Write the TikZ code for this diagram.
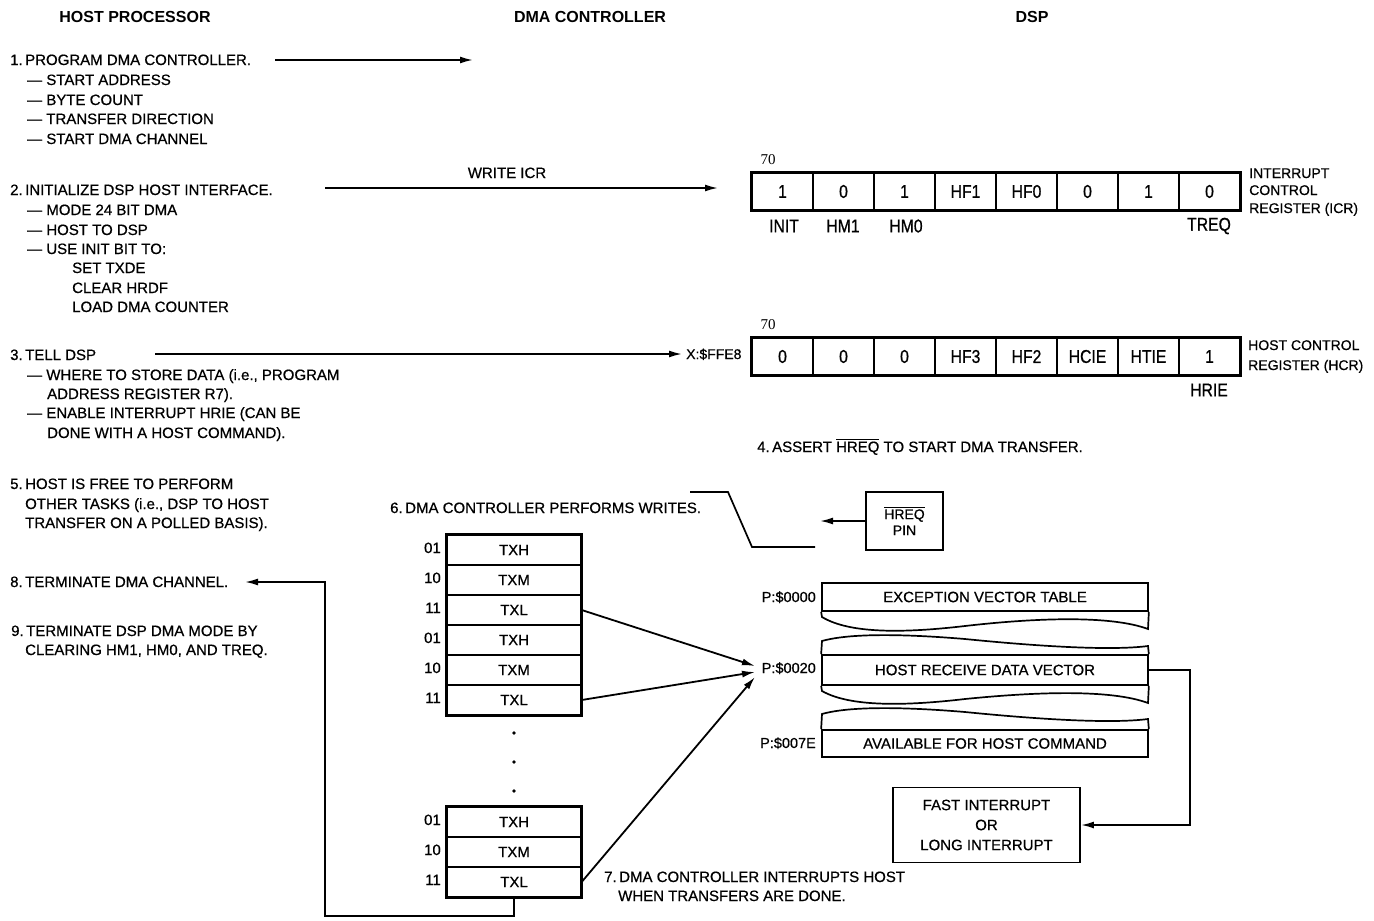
\documentclass[tikz,border=0pt]{standalone}
\usepackage{fontspec}
\setmainfont{Liberation Sans}[UprightFeatures={FakeBold=0.6}]
\newfontfamily\condf{Liberation Sans}[FakeStretch=0.85,FakeBold=0.8]
\newfontfamily\serf{Liberation Serif}
\usetikzlibrary{arrows.meta}
\newsavebox\ovlbox
\newcommand{\ovl}[1]{\sbox\ovlbox{#1}\rlap{\rule[\dimexpr\ht\ovlbox+1.6pt\relax]{\wd\ovlbox}{0.9pt}}\usebox\ovlbox}
\newcommand{\nsp}{\hspace{2.5pt}}
\begin{document}
\begin{tikzpicture}[x=1pt,y=-1pt,
  txt/.style={inner sep=0pt, anchor=base west, font=\fontsize{15}{18}\selectfont},
  ctxt/.style={inner sep=0pt, anchor=base, font=\fontsize{15}{18}\selectfont},
  hdr/.style={inner sep=0pt, anchor=base, font=\fontsize{16}{19}\selectfont\bfseries},
  reg/.style={draw, line width=1.3pt, minimum width=61pt, minimum height=37pt, inner sep=0pt, font=\condf\fontsize{18.5}{20}\selectfont},
  reglab/.style={inner sep=0pt, anchor=center, font=\condf\fontsize{18.5}{20}\selectfont},
  side/.style={inner sep=0pt, anchor=base west, font=\fontsize{14}{17}\selectfont},
  addr/.style={inner sep=0pt, anchor=base east, font=\fontsize{14.5}{17}\selectfont},
  num/.style={inner sep=0pt, anchor=base east, font=\fontsize{15}{18}\selectfont},
  seventy/.style={inner sep=0pt, font=\serf\fontsize{15}{18}\selectfont},
  cell/.style={draw, line width=1.3pt, minimum width=134pt, minimum height=30pt, inner sep=0pt, font=\fontsize{15}{18}\selectfont},
  mem/.style={draw, line width=1.7pt, minimum width=326pt, inner sep=0pt, font=\fontsize{15}{18}\selectfont},
  arr/.style={line width=1.8pt, -{Latex[length=13pt,width=7pt]}},
  ln/.style={line width=1.7pt},
]
\useasboundingbox (0,0) rectangle (1374,921);
\fill[white] (0,0) rectangle (1374,921);

% headers
\node[hdr] (h1) at (135,22.5) {HOST PROCESSOR};
\node[hdr] (h2) at (590,22.5) {DMA CONTROLLER};
\node[hdr] (h3) at (1032,22.5) {DSP};

% step 1
\node[txt] (s1) at (10,65) {1.\nsp PROGRAM DMA CONTROLLER.};
\node[txt] (s1a) at (27,85) {— START ADDRESS};
\node[txt] (s1b) at (27,105) {— BYTE COUNT};
\node[txt] (s1c) at (27,124) {— TRANSFER DIRECTION};
\node[txt] (s1d) at (27,144) {— START DMA CHANNEL};
\coordinate (a1s) at (275,60);
\coordinate (a1e) at (473,60);
\draw[arr] (a1s) -- (a1e);

% step 2
\node[txt] (s2) at (10,195) {2.\nsp INITIALIZE DSP HOST INTERFACE.};
\node[txt] (s2a) at (27,215) {— MODE 24 BIT DMA};
\node[txt] (s2b) at (27,235) {— HOST TO DSP};
\node[txt] (s2c) at (27,254) {— USE INIT BIT TO:};
\node[txt] (s2d) at (72,273) {SET TXDE};
\node[txt] (s2e) at (72,293) {CLEAR HRDF};
\node[txt] (s2f) at (72,312) {LOAD DMA COUNTER};
\node[ctxt] (wicr) at (507,178) {WRITE ICR};
\coordinate (a2s) at (325,188);
\coordinate (a2e) at (718,188);
\draw[arr] (a2s) -- (a2e);

% ICR
\node[seventy] (z1) at (768,160) {70};
\node[reg] (i1) at (782.5,191.5) {1};
\node[reg] (i2) at (843.5,191.5) {0};
\node[reg] (i3) at (904.5,191.5) {1};
\node[reg] (i4) at (965.5,191.5) {HF1};
\node[reg] (i5) at (1026.5,191.5) {HF0};
\node[reg] (i6) at (1087.5,191.5) {0};
\node[reg] (i7) at (1148.5,191.5) {1};
\node[reg] (i8) at (1209.5,191.5) {0};
\draw[line width=2.6pt] (i1.north west) rectangle (i8.south east);
\node[reglab] (l1) at (784,226) {INIT};
\node[reglab] (l2) at (843,226) {HM1};
\node[reglab] (l3) at (906,226) {HM0};
\node[reglab] (l4) at (1209,226) {TREQ};
\node[side] (icrt1) at (1249,178) {INTERRUPT};
\node[side] (icrt2) at (1249,195) {CONTROL};
\node[side] (icrt3) at (1249,213) {REGISTER (ICR)};

% step 3
\node[txt] (s3) at (10,360) {3.\nsp TELL DSP};
\node[txt] (s3a) at (27,380) {— WHERE TO STORE DATA (i.e., PROGRAM};
\node[txt] (s3b) at (47,399) {ADDRESS REGISTER R7).};
\node[txt] (s3c) at (27,418) {— ENABLE INTERRUPT HRIE (CAN BE};
\node[txt] (s3d) at (47,438) {DONE WITH A HOST COMMAND).};
\coordinate (a3s) at (155,354);
\node[side] (xffe8) at (686,359) {X:\$FFE8};
\draw[arr] (a3s) -- ([xshift=-4pt]xffe8.west |- a3s);

% HCR
\node[seventy] (z2) at (768,325) {70};
\node[reg] (j1) at (782.5,356.5) {0};
\node[reg] (j2) at (843.5,356.5) {0};
\node[reg] (j3) at (904.5,356.5) {0};
\node[reg] (j4) at (965.5,356.5) {HF3};
\node[reg] (j5) at (1026.5,356.5) {HF2};
\node[reg] (j6) at (1087.5,356.5) {HCIE};
\node[reg] (j7) at (1148.5,356.5) {HTIE};
\node[reg] (j8) at (1209.5,356.5) {1};
\draw[line width=2.6pt] (j1.north west) rectangle (j8.south east);
\node[reglab] (l5) at (1209,390) {HRIE};
\node[side] (hcrt1) at (1248,350) {HOST CONTROL};
\node[side] (hcrt2) at (1248,370) {REGISTER (HCR)};

% step 4
\node[txt] (s4) at (757,452) {4.\nsp ASSERT \ovl{HREQ} TO START DMA TRANSFER.};

% step 5
\node[txt] (s5) at (10,489) {5.\nsp HOST IS FREE TO PERFORM};
\node[txt] (s5a) at (25,509) {OTHER TASKS (i.e., DSP TO HOST};
\node[txt] (s5b) at (25,528) {TRANSFER ON A POLLED BASIS).};

% step 6
\node[txt] (s6) at (390,513) {6.\nsp DMA CONTROLLER PERFORMS WRITES.};
\coordinate (p6a) at (690,492);
\coordinate (p6b) at (728,492);
\coordinate (p6c) at (752,547);
\coordinate (p6d) at (815,547);
\draw[ln] (p6a) -- (p6b) -- (p6c) -- (p6d);

% HREQ pin
\node[draw, line width=2pt, minimum width=77pt, minimum height=58pt, inner sep=0pt, align=center, font=\fontsize{14}{16}\selectfont] (pin) at (904.5,521) {\ovl{HREQ}\\PIN};
\coordinate (pina) at (820,521);
\draw[arr] (pin.west) -- (pina);

% buffer
\node[cell] (b1) at (514,550) {TXH};
\node[cell] (b2) at (514,580) {TXM};
\node[cell] (b3) at (514,610) {TXL};
\node[cell] (b4) at (514,640) {TXH};
\node[cell] (b5) at (514,670) {TXM};
\node[cell] (b6) at (514,700) {TXL};
\draw[line width=2.2pt] (b1.north west) rectangle (b6.south east);
\node[num] (n1) at (441,553) {01};
\node[num] (n2) at (441,583) {10};
\node[num] (n3) at (441,613) {11};
\node[num] (n4) at (441,643) {01};
\node[num] (n5) at (441,673) {10};
\node[num] (n6) at (441,703) {11};
\fill (514,733) circle (1.9);
\fill (514,762) circle (1.9);
\fill (514,791) circle (1.9);
\node[cell] (c1) at (514,822) {TXH};
\node[cell] (c2) at (514,852) {TXM};
\node[cell] (c3) at (514,882) {TXL};
\draw[line width=2.2pt] (c1.north west) rectangle (c3.south east);
\node[num] (m1) at (441,825) {01};
\node[num] (m2) at (441,855) {10};
\node[num] (m3) at (441,885) {11};

% step 7
\node[txt] (s7) at (604,882) {7.\nsp DMA CONTROLLER INTERRUPTS HOST};
\node[txt] (s7a) at (618,901) {WHEN TRANSFERS ARE DONE.};

% step 8, 9
\node[txt] (s8) at (10,587) {8.\nsp TERMINATE DMA CHANNEL.};
\node[txt] (s9) at (11,636) {9.\nsp TERMINATE DSP DMA MODE BY};
\node[txt] (s9a) at (25,655) {CLEARING HM1, HM0, AND TREQ.};
\coordinate (k2) at (325,916);
\coordinate (k8) at (245,582);
\draw[arr] (c3.south) |- (k2) |- (k8);

% memory map
\node[addr] (p0) at (816,602) {P:\$0000};
\node[addr] (p20) at (816,673) {P:\$0020};
\node[addr] (p7e) at (816,748) {P:\$007E};
\node[mem, minimum height=28pt] (exc) at (985,597) {EXCEPTION VECTOR TABLE};
\node[mem, minimum height=30pt] (hrv) at (985,670) {HOST RECEIVE DATA VECTOR};
\node[mem, minimum height=27pt] (avl) at (985,743.5) {AVAILABLE FOR HOST COMMAND};
\draw[ln] (exc.south west) -- (822,617) .. controls (850,634) and (905,633) .. (965,626) .. controls (1035,618) and (1110,615) .. (1148,629) -- (exc.south east);
\draw[ln] (hrv.north west) -- (822,641) .. controls (850,633) and (905,634) .. (965,639) .. controls (1035,646) and (1110,651) .. (1148,646) -- (hrv.north east);
\draw[ln] (hrv.south west) -- (822,691) .. controls (850,707) and (905,706) .. (965,699) .. controls (1035,692) and (1110,689) .. (1148,703) -- (hrv.south east);
\draw[ln] (avl.north west) -- (822,714) .. controls (850,706) and (905,707) .. (965,712) .. controls (1035,719) and (1110,724) .. (1148,719) -- (avl.north east);

\coordinate (pt1) at (755,666);
\coordinate (pt2) at (755,672);
\coordinate (pt3) at (755,677);
\draw[arr] (b3.east) -- (pt1);
\draw[arr] (b6.east) -- (pt2);
\draw[arr] (c3.east) -- (pt3);

% fast interrupt
\node[draw, line width=1.9pt, minimum width=187pt, minimum height=75pt, inner sep=0pt, align=center, font=\fontsize{15}{20}\selectfont] (fast) at (986.5,825) {FAST INTERRUPT\\OR\\LONG INTERRUPT};
\coordinate (rc) at (1190,750);
\draw[arr] (hrv.east) -| (rc) |- (fast.east);
\end{tikzpicture}
\end{document}
